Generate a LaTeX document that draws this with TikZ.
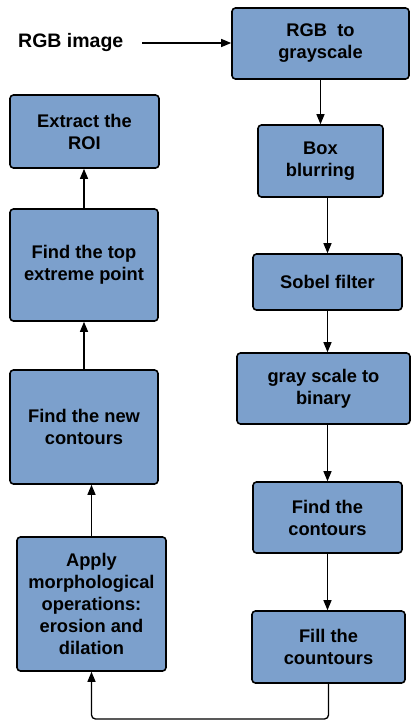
\documentclass[tikz,border=0pt]{standalone}
\usepackage{fontspec}
\setmainfont{Liberation Sans}
\usetikzlibrary{arrows.meta,calc}
\definecolor{boxblue}{RGB}{124,160,204}
\begin{document}
\begin{tikzpicture}[x=1pt,y=-1pt,
  box/.style={draw=black, line width=1.6pt, fill=boxblue, rounded corners=3.5pt,
    align=center, inner sep=0pt, font=\fontsize{18.3}{22}\selectfont\bfseries},
  conn/.style={line width=1.3pt, -{Triangle[length=10pt,width=8pt]}},
  lbl/.style={font=\fontsize{19.5}{22}\selectfont\bfseries, inner sep=0pt}]
\useasboundingbox (0,0) rectangle (412,721);
% right column
\node[box, minimum width=177, minimum height=71] (n1) at (320.5,43.5) {RGB\ \ to\\grayscale};
\node[box, minimum width=125, minimum height=72] (n2) at (320.5,161) {Box\\blurring};
\node[box, minimum width=149, minimum height=56] (n3) at (327.5,282) {Sobel filter};
\node[box, minimum width=173, minimum height=71] (n4) at (323.5,388.5) {gray scale to\\binary};
\node[box, minimum width=149, minimum height=71] (n5) at (327.5,517.5) {Find the\\contours};
\node[box, minimum width=153, minimum height=72] (n6) at (328.5,647) {Fill the\\countours};
% left column
\node[box, minimum width=149, minimum height=134] (n7) at (91.5,604) {Apply\\morphological\\operations:\\erosion and\\dilation};
\node[box, minimum width=148, minimum height=114] (n8) at (84,427) {Find the new\\contours};
\node[box, minimum width=148, minimum height=112] (n9) at (84,265) {Find the top\\extreme point};
\node[box, minimum width=149, minimum height=73] (n10) at (84.5,131.5) {Extract the\\ROI};
% input label
\node[lbl, anchor=west] (in) at (18,42) {RGB image};
\coordinate (inend) at (142,43);
% connectors
\draw[conn] (inend) -- (n1.west |- inend);
\draw[conn] (n1.south) -- (n1.south |- n2.north);
\draw[conn] (n3.north |- n2.south) -- (n3.north);
\draw[conn] (n3.south) -- (n3.south |- n4.north);
\draw[conn] (n5.north |- n4.south) -- (n5.north);
\draw[conn] (n5.south) -- (n5.south |- n6.north);
\coordinate (loopy) at (0,719);
\draw[conn, rounded corners=4pt] (n6.south) -- (n6.south |- loopy) -- (n7.south |- loopy) -- (n7.south);
\draw[conn] (n7.north) -- (n7.north |- n8.south);
\draw[conn] (n8.north) -- (n8.north |- n9.south);
\draw[conn] (n9.north) -- (n9.north |- n10.south);
\end{tikzpicture}
\end{document}
